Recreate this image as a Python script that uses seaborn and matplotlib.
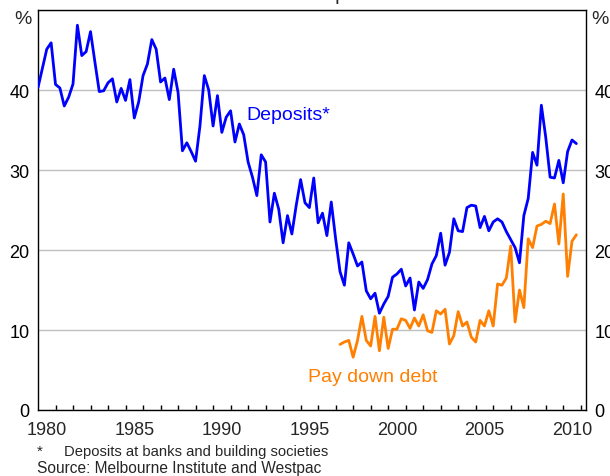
import matplotlib
matplotlib.use("Agg")
import matplotlib.pyplot as plt
import seaborn as sns
import pandas as pd
import numpy as np

# ---- data (quarterly, 1980 Q1 onwards) ----
START_YEAR = 1980
deposits = [40.3, 42.7, 45.1, 45.9, 40.7, 40.25, 38.0, 39.1, 40.75, 48.1,
            44.3, 44.8, 47.3, 43.5, 39.8, 39.9, 40.9, 41.4, 38.5, 40.2,
            38.7, 41.3, 36.5, 38.5, 41.8, 43.25, 46.3, 45.1, 41.0, 41.5,
            38.8, 42.6, 39.7, 32.4, 33.4, 32.3, 31.1, 35.5, 41.8, 40.0,
            35.5, 39.3, 34.7, 36.6, 37.4, 33.5, 35.75, 34.4, 31.0, 29.1,
            26.8, 31.9, 31.0, 23.5, 27.1, 25.1, 20.9, 24.3, 22.0, 25.6,
            28.8, 25.9, 25.3, 29.0, 23.4, 24.6, 21.8, 26.0, 21.4, 17.3,
            15.6, 20.9, 19.5, 18.0, 18.5, 14.9, 13.9, 14.6, 12.1, 13.25,
            14.2, 16.6, 17.0, 17.6, 15.5, 16.5, 12.5, 16.0, 15.2, 16.3,
            18.25, 19.3, 22.1, 18.1, 19.7, 23.9, 22.4, 22.3, 25.3, 25.6,
            25.5, 22.8, 24.2, 22.4, 23.5, 23.9, 23.5, 22.3, 21.3, 20.3,
            18.4, 24.3, 26.45, 32.2, 30.6, 38.1, 34.1, 29.1, 29.0, 31.2,
            28.4, 32.3, 33.75, 33.3]

PAYDOWN_START = 1997.25
pay_down_debt = [8.2, 8.5, 8.7, 6.6, 8.7, 11.7, 8.7, 8.0, 11.7, 7.4,
                 11.6, 7.7, 10.1, 10.1, 11.4, 11.2, 10.2, 11.5, 10.5, 11.9,
                 9.9, 9.7, 12.4, 12.0, 12.6, 8.25, 9.3, 12.3, 10.5, 11.0,
                 9.1, 8.5, 11.2, 10.5, 12.4, 10.5, 15.75, 15.6, 16.5, 20.5,
                 11.0, 15.0, 12.8, 21.4, 20.3, 23.0, 23.2, 23.6, 23.3, 25.75,
                 20.75, 27.0, 16.7, 21.1, 21.9]

year_labels = ["1980", "1985", "1990", "1995", "2000", "2005", "2010"]
y_labels = ["0", "10", "20", "30", "40"]

BLUE = "#0000ff"
ORANGE = "#ff7f00"

dep_years = START_YEAR + np.arange(len(deposits)) / 4.0
pay_years = PAYDOWN_START + np.arange(len(pay_down_debt)) / 4.0
df = pd.concat([
    pd.DataFrame({"year": dep_years, "value": deposits, "series": "Deposits"}),
    pd.DataFrame({"year": pay_years, "value": pay_down_debt, "series": "Pay down debt"}),
], ignore_index=True)

sns.set_style("white")
plt.rcParams["font.family"] = ["Liberation Sans", "DejaVu Sans"]

W, H = 610, 477
fig = plt.figure(figsize=(W / 100, H / 100), dpi=100)
ax = fig.add_axes([38 / W, 66 / H, 548 / W, 400 / H])

sns.lineplot(data=df, x="year", y="value", hue="series",
             palette={"Deposits": BLUE, "Pay down debt": ORANGE},
             linewidth=2.0, legend=False, ax=ax, sort=False, zorder=3)

ax.set_xlim(1980, 2011.3)
ax.set_ylim(0, 50)
ax.set_xlabel("")
ax.set_ylabel("")

# y axis
ax.set_yticks([0, 10, 20, 30, 40, 50])
ax.set_yticklabels(y_labels + [""])
ax.tick_params(axis="y", length=0, labelleft=True, labelright=True,
               labelsize=13, pad=6, colors="black")
ax.grid(axis="y", color="#c0c0c0", linewidth=1.0)
ax.set_axisbelow(True)
for xpos, ha in ((-6 / 548, "right"), (1 + 5 / 548, "left")):
    ax.text(xpos, 48.9, "%", transform=ax.get_yaxis_transform(),
            ha=ha, va="center", fontsize=14)

# x axis
label_years = [int(s) + 0.5 for s in year_labels]
ax.set_xticks(label_years)
ax.set_xticklabels(year_labels)
ax.set_xticks(np.arange(1981, 2012), minor=True)
ax.tick_params(axis="x", which="major", length=0, labelsize=13, pad=8)
ax.tick_params(axis="x", which="minor", length=3.6, width=1.0,
               direction="in", color="black", bottom=True, top=False)

for sp in ax.spines.values():
    sp.set_visible(True)
    sp.set_color("black")
    sp.set_linewidth(1.0)

# series labels
ax.text(1991.9, 37.0, "Deposits*", color=BLUE, fontsize=14, va="center", ha="left")
ax.text(1995.43, 4.25, "Pay down debt", color=ORANGE, fontsize=14, va="center", ha="left")

# subtitle (mostly above the visible area)
fig.text(312 / W, 1.0, "Per cent of respondents", ha="center", va="baseline", fontsize=14)

# footnotes
fig.text(37 / W, 1 - 452 / H, "*", fontsize=11, va="center", ha="left")
fig.text(64 / W, 1 - 452 / H, "Deposits at banks and building societies",
         fontsize=10.6, va="center", ha="left")
fig.text(37 / W, 1 - 469 / H, "Source: Melbourne Institute and Westpac",
         fontsize=11.2, va="center", ha="left")

fig.savefig("out.png", dpi=100)
